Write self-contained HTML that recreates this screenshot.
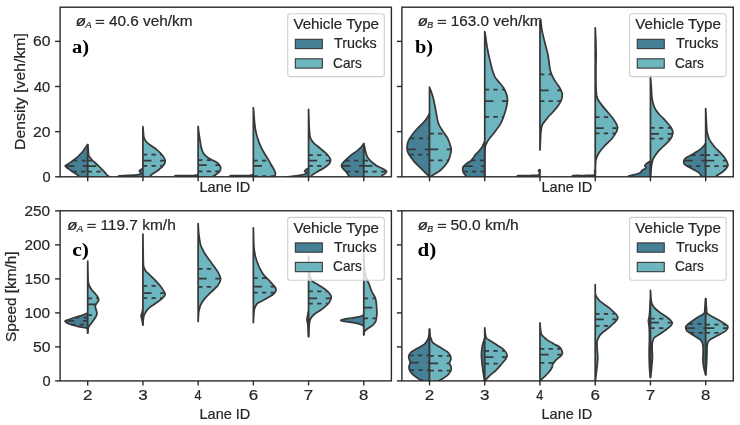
<!DOCTYPE html><html><head><meta charset="utf-8"><style>html,body{margin:0;padding:0;background:#fff;}svg{display:block;} svg{will-change:transform;}</style></head><body>
<svg width="740" height="425" viewBox="0 0 740 425">
<rect width="740" height="425" fill="#ffffff"/>
<defs>
<clipPath id="ca"><rect x="60.10" y="7.20" width="331.30" height="169.60"/></clipPath>
<clipPath id="cb"><rect x="401.90" y="7.20" width="331.40" height="169.60"/></clipPath>
<clipPath id="cc"><rect x="60.10" y="210.80" width="331.30" height="170.10"/></clipPath>
<clipPath id="cd"><rect x="401.90" y="210.80" width="331.40" height="170.10"/></clipPath>
</defs>
<g clip-path="url(#ca)">
<path d="M87.71,144.50 C87.29,145.08 86.09,146.75 85.21,148.00 C84.32,149.25 83.36,150.83 82.41,152.00 C81.46,153.17 80.51,154.02 79.51,155.00 C78.51,155.98 77.42,157.03 76.41,157.90 C75.39,158.77 74.39,159.45 73.41,160.20 C72.42,160.95 71.46,161.73 70.51,162.40 C69.56,163.07 68.57,163.63 67.71,164.20 C66.84,164.77 65.48,165.25 65.31,165.80 C65.14,166.35 66.09,166.95 66.71,167.50 C67.32,168.05 67.76,168.22 69.01,169.10 C70.26,169.98 72.59,171.68 74.21,172.80 C75.82,173.92 77.46,174.60 78.71,175.80 C79.96,177.00 81.21,179.30 81.71,180.00 L87.71,180.00 Z" fill="#468096" stroke="#383838" stroke-width="1.75" stroke-linejoin="round"/>
<line x1="73.16" y1="160.50" x2="87.71" y2="160.50" stroke="#383838" stroke-width="1.75" stroke-dasharray="4.3,4.3"/>
<line x1="65.70" y1="166.00" x2="87.71" y2="166.00" stroke="#383838" stroke-width="1.75" stroke-dasharray="8.6,8.6"/>
<line x1="72.53" y1="171.50" x2="87.71" y2="171.50" stroke="#383838" stroke-width="1.75" stroke-dasharray="4.3,4.3"/>
<path d="M87.71,144.50 C87.79,145.42 88.04,148.17 88.21,150.00 C88.38,151.83 88.44,154.30 88.71,155.50 C88.97,156.70 89.24,156.42 89.81,157.20 C90.37,157.98 90.99,159.07 92.11,160.20 C93.22,161.33 95.27,162.88 96.51,164.00 C97.74,165.12 98.64,166.05 99.51,166.90 C100.38,167.75 100.84,168.23 101.71,169.10 C102.57,169.97 103.84,171.12 104.71,172.10 C105.57,173.08 106.17,174.27 106.91,175.00 C107.64,175.73 108.47,175.67 109.11,176.50 C109.74,177.33 110.44,179.42 110.71,180.00 L87.71,180.00 Z" fill="#6db6bf" stroke="#383838" stroke-width="1.75" stroke-linejoin="round"/>
<line x1="87.71" y1="160.50" x2="92.41" y2="160.50" stroke="#383838" stroke-width="1.75" stroke-dasharray="4.3,4.3"/>
<line x1="87.71" y1="166.00" x2="98.47" y2="166.00" stroke="#383838" stroke-width="1.75" stroke-dasharray="8.6,8.6"/>
<line x1="87.71" y1="171.50" x2="103.94" y2="171.50" stroke="#383838" stroke-width="1.75" stroke-dasharray="4.3,4.3"/>
<path d="M142.92,168.50 C142.51,168.72 141.01,169.37 140.42,169.80 C139.84,170.23 139.42,170.65 139.42,171.10 C139.42,171.55 140.17,172.02 140.42,172.50 C140.67,172.98 141.51,173.62 140.92,174.00 C140.34,174.38 139.09,174.57 136.92,174.80 C134.76,175.03 130.84,175.23 127.92,175.40 C125.01,175.57 121.01,175.53 119.42,175.80 C117.84,176.07 118.67,176.30 118.42,177.00 C118.17,177.70 118.01,179.50 117.92,180.00 L142.92,180.00 Z" fill="#468096" stroke="#383838" stroke-width="1.75" stroke-linejoin="round"/>
<path d="M142.92,126.70 C143.01,127.75 143.24,131.15 143.42,133.00 C143.61,134.85 143.64,136.47 144.02,137.80 C144.41,139.13 144.84,139.88 145.72,141.00 C146.61,142.12 147.49,143.05 149.32,144.50 C151.16,145.95 154.49,147.83 156.72,149.70 C158.96,151.57 161.29,153.83 162.72,155.70 C164.16,157.57 165.32,159.17 165.32,160.90 C165.32,162.63 164.16,164.37 162.72,166.10 C161.29,167.83 158.71,169.77 156.72,171.30 C154.74,172.83 152.29,173.85 150.82,175.30 C149.36,176.75 148.41,179.22 147.92,180.00 L142.92,180.00 Z" fill="#6db6bf" stroke="#383838" stroke-width="1.75" stroke-linejoin="round"/>
<line x1="142.92" y1="154.60" x2="161.44" y2="154.60" stroke="#383838" stroke-width="1.75" stroke-dasharray="4.3,4.3"/>
<line x1="142.92" y1="160.50" x2="164.90" y2="160.50" stroke="#383838" stroke-width="1.75" stroke-dasharray="8.6,8.6"/>
<line x1="142.92" y1="165.90" x2="162.63" y2="165.90" stroke="#383838" stroke-width="1.75" stroke-dasharray="4.3,4.3"/>
<path d="M198.14,174.30 C197.89,174.42 197.47,174.80 196.64,175.00 C195.81,175.20 196.52,175.40 193.14,175.50 C189.76,175.60 179.26,175.43 176.34,175.60 C173.42,175.77 175.84,175.77 175.64,176.50 C175.44,177.23 175.22,179.42 175.14,180.00 L198.14,180.00 Z" fill="#468096" stroke="#383838" stroke-width="1.75" stroke-linejoin="round"/>
<path d="M198.14,126.30 C198.24,127.25 198.49,130.07 198.74,132.00 C198.99,133.93 199.38,136.23 199.64,137.90 C199.91,139.57 200.09,140.47 200.34,142.00 C200.59,143.53 200.62,145.23 201.14,147.10 C201.66,148.97 202.29,151.42 203.44,153.20 C204.59,154.98 206.26,156.52 208.04,157.80 C209.82,159.08 212.36,159.87 214.14,160.90 C215.92,161.93 217.66,162.85 218.74,164.00 C219.82,165.15 220.51,166.53 220.64,167.80 C220.77,169.07 220.36,170.45 219.54,171.60 C218.72,172.75 216.76,173.93 215.74,174.70 C214.72,175.47 214.38,175.32 213.44,176.20 C212.51,177.08 210.69,179.37 210.14,180.00 L198.14,180.00 Z" fill="#6db6bf" stroke="#383838" stroke-width="1.75" stroke-linejoin="round"/>
<line x1="198.14" y1="160.10" x2="212.42" y2="160.10" stroke="#383838" stroke-width="1.75" stroke-dasharray="4.3,4.3"/>
<line x1="198.14" y1="165.20" x2="219.13" y2="165.20" stroke="#383838" stroke-width="1.75" stroke-dasharray="8.6,8.6"/>
<line x1="198.14" y1="171.30" x2="219.41" y2="171.30" stroke="#383838" stroke-width="1.75" stroke-dasharray="4.3,4.3"/>
<path d="M253.36,174.30 C253.11,174.42 252.69,174.80 251.86,175.00 C251.02,175.20 251.74,175.40 248.36,175.50 C244.97,175.60 234.47,175.43 231.56,175.60 C228.64,175.77 231.06,175.77 230.86,176.50 C230.66,177.23 230.44,179.42 230.36,180.00 L253.36,180.00 Z" fill="#468096" stroke="#383838" stroke-width="1.75" stroke-linejoin="round"/>
<path d="M253.36,107.50 C253.46,108.75 253.76,112.48 253.96,115.00 C254.16,117.52 254.29,120.07 254.56,122.60 C254.82,125.13 255.07,127.68 255.56,130.20 C256.04,132.72 256.67,135.18 257.46,137.70 C258.24,140.22 259.16,142.78 260.26,145.30 C261.36,147.82 262.64,150.28 264.06,152.80 C265.48,155.32 267.34,158.03 268.76,160.40 C270.18,162.77 271.52,165.12 272.56,167.00 C273.59,168.88 274.49,170.45 274.96,171.70 C275.42,172.95 275.54,173.72 275.36,174.50 C275.18,175.28 274.53,175.48 273.86,176.40 C273.19,177.32 271.78,179.40 271.36,180.00 L253.36,180.00 Z" fill="#6db6bf" stroke="#383838" stroke-width="1.75" stroke-linejoin="round"/>
<line x1="253.36" y1="160.60" x2="268.72" y2="160.60" stroke="#383838" stroke-width="1.75" stroke-dasharray="4.3,4.3"/>
<line x1="253.36" y1="165.80" x2="271.68" y2="165.80" stroke="#383838" stroke-width="1.75" stroke-dasharray="8.6,8.6"/>
<line x1="253.36" y1="176.00" x2="273.97" y2="176.00" stroke="#383838" stroke-width="1.75" stroke-dasharray="4.3,4.3"/>
<path d="M308.57,168.30 C308.16,168.50 306.74,169.03 306.07,169.50 C305.41,169.97 304.49,170.58 304.57,171.10 C304.66,171.62 306.74,172.03 306.57,172.60 C306.41,173.17 305.74,173.90 303.57,174.50 C301.41,175.10 296.57,175.75 293.57,176.20 C290.57,176.65 287.07,176.57 285.57,177.20 C284.07,177.83 284.74,179.53 284.57,180.00 L308.57,180.00 Z" fill="#468096" stroke="#383838" stroke-width="1.75" stroke-linejoin="round"/>
<path d="M308.57,109.40 C308.66,112.00 308.91,121.07 309.07,125.00 C309.24,128.93 309.38,130.90 309.57,133.00 C309.77,135.10 309.91,136.35 310.27,137.60 C310.64,138.85 311.14,139.55 311.77,140.50 C312.41,141.45 312.76,142.05 314.07,143.30 C315.39,144.55 317.79,146.43 319.68,148.00 C321.56,149.57 323.74,151.13 325.38,152.70 C327.01,154.27 328.61,156.15 329.47,157.40 C330.34,158.65 330.64,159.10 330.57,160.20 C330.51,161.30 330.11,162.73 329.07,164.00 C328.04,165.27 326.26,166.55 324.38,167.80 C322.49,169.05 319.66,170.40 317.77,171.50 C315.89,172.60 314.17,173.62 313.07,174.40 C311.98,175.18 311.76,175.27 311.18,176.20 C310.59,177.13 309.84,179.37 309.57,180.00 L308.57,180.00 Z" fill="#6db6bf" stroke="#383838" stroke-width="1.75" stroke-linejoin="round"/>
<line x1="308.57" y1="155.20" x2="327.37" y2="155.20" stroke="#383838" stroke-width="1.75" stroke-dasharray="4.3,4.3"/>
<line x1="308.57" y1="160.60" x2="330.20" y2="160.60" stroke="#383838" stroke-width="1.75" stroke-dasharray="8.6,8.6"/>
<line x1="308.57" y1="165.90" x2="326.54" y2="165.90" stroke="#383838" stroke-width="1.75" stroke-dasharray="4.3,4.3"/>
<path d="M363.79,143.50 C363.54,143.83 362.83,144.80 362.29,145.50 C361.76,146.20 361.58,146.72 360.59,147.70 C359.61,148.68 357.98,150.17 356.39,151.40 C354.81,152.63 352.86,153.68 351.09,155.10 C349.33,156.52 347.29,158.40 345.79,159.90 C344.29,161.40 342.79,163.03 342.09,164.10 C341.39,165.17 341.41,165.50 341.59,166.30 C341.78,167.10 342.49,168.03 343.19,168.90 C343.89,169.77 344.93,170.43 345.79,171.50 C346.66,172.57 347.39,173.88 348.39,175.30 C349.39,176.72 351.23,179.22 351.79,180.00 L363.79,180.00 Z" fill="#468096" stroke="#383838" stroke-width="1.75" stroke-linejoin="round"/>
<line x1="345.36" y1="160.60" x2="363.79" y2="160.60" stroke="#383838" stroke-width="1.75" stroke-dasharray="4.3,4.3"/>
<line x1="341.90" y1="165.90" x2="363.79" y2="165.90" stroke="#383838" stroke-width="1.75" stroke-dasharray="8.6,8.6"/>
<line x1="345.97" y1="171.50" x2="363.79" y2="171.50" stroke="#383838" stroke-width="1.75" stroke-dasharray="4.3,4.3"/>
<path d="M363.79,143.50 C363.93,144.08 364.33,145.77 364.59,147.00 C364.86,148.23 364.99,149.37 365.39,150.90 C365.79,152.43 366.38,154.78 366.99,156.20 C367.61,157.62 368.21,158.35 369.09,159.40 C369.98,160.45 371.06,161.45 372.29,162.50 C373.53,163.55 375.07,164.82 376.49,165.70 C377.91,166.58 379.38,167.08 380.79,167.80 C382.21,168.52 384.02,169.38 384.99,170.00 C385.96,170.62 386.59,170.88 386.59,171.50 C386.59,172.12 385.79,172.98 384.99,173.70 C384.19,174.42 382.83,174.75 381.79,175.80 C380.76,176.85 379.29,179.30 378.79,180.00 L363.79,180.00 Z" fill="#6db6bf" stroke="#383838" stroke-width="1.75" stroke-linejoin="round"/>
<line x1="363.79" y1="160.60" x2="370.26" y2="160.60" stroke="#383838" stroke-width="1.75" stroke-dasharray="4.3,4.3"/>
<line x1="363.79" y1="165.90" x2="376.77" y2="165.90" stroke="#383838" stroke-width="1.75" stroke-dasharray="8.6,8.6"/>
<line x1="363.79" y1="171.50" x2="386.36" y2="171.50" stroke="#383838" stroke-width="1.75" stroke-dasharray="4.3,4.3"/>
</g>
<g clip-path="url(#cb)">
<path d="M429.52,113.60 C429.10,114.33 427.97,116.60 427.02,118.00 C426.07,119.40 425.35,120.33 423.82,122.00 C422.28,123.67 419.82,125.80 417.82,128.00 C415.82,130.20 413.42,133.00 411.82,135.20 C410.22,137.40 409.02,139.20 408.22,141.20 C407.42,143.20 407.02,145.20 407.02,147.20 C407.02,149.20 407.02,150.80 408.22,153.20 C409.42,155.60 412.02,159.00 414.22,161.60 C416.42,164.20 419.22,166.60 421.42,168.80 C423.62,171.00 426.12,173.50 427.42,174.80 C428.72,176.10 428.87,176.07 429.22,176.60 C429.57,177.13 429.47,177.77 429.52,178.00 L429.52,178.00 Z" fill="#468096" stroke="#383838" stroke-width="1.75" stroke-linejoin="round"/>
<line x1="410.15" y1="138.30" x2="429.52" y2="138.30" stroke="#383838" stroke-width="1.75" stroke-dasharray="4.3,4.3"/>
<line x1="407.66" y1="149.30" x2="429.52" y2="149.30" stroke="#383838" stroke-width="1.75" stroke-dasharray="8.6,8.6"/>
<line x1="409.49" y1="154.70" x2="429.52" y2="154.70" stroke="#383838" stroke-width="1.75" stroke-dasharray="4.3,4.3"/>
<path d="M429.52,87.20 C429.82,88.00 430.65,90.00 431.32,92.00 C431.98,94.00 432.75,96.00 433.52,99.20 C434.28,102.40 435.12,107.20 435.92,111.20 C436.72,115.20 437.12,119.80 438.32,123.20 C439.52,126.60 441.52,129.00 443.12,131.60 C444.72,134.20 446.63,136.20 447.92,138.80 C449.20,141.40 450.30,145.00 450.82,147.20 C451.33,149.40 451.50,149.60 451.02,152.00 C450.53,154.40 449.63,158.60 447.92,161.60 C446.20,164.60 443.12,167.80 440.72,170.00 C438.32,172.20 435.22,173.70 433.52,174.80 C431.82,175.90 431.18,176.07 430.52,176.60 C429.85,177.13 429.68,177.77 429.52,178.00 L429.52,178.00 Z" fill="#6db6bf" stroke="#383838" stroke-width="1.75" stroke-linejoin="round"/>
<line x1="429.52" y1="133.60" x2="444.30" y2="133.60" stroke="#383838" stroke-width="1.75" stroke-dasharray="4.3,4.3"/>
<line x1="429.52" y1="149.30" x2="450.69" y2="149.30" stroke="#383838" stroke-width="1.75" stroke-dasharray="8.6,8.6"/>
<line x1="429.52" y1="160.40" x2="448.12" y2="160.40" stroke="#383838" stroke-width="1.75" stroke-dasharray="4.3,4.3"/>
<path d="M484.75,141.00 C484.62,141.33 484.35,142.05 483.95,143.00 C483.55,143.95 483.15,145.38 482.35,146.70 C481.55,148.02 480.30,149.58 479.15,150.90 C478.00,152.22 476.42,153.45 475.45,154.60 C474.48,155.75 474.15,156.73 473.35,157.80 C472.55,158.87 471.80,160.03 470.65,161.00 C469.50,161.97 467.68,162.63 466.45,163.60 C465.22,164.57 463.87,165.73 463.25,166.80 C462.63,167.87 462.67,168.95 462.75,170.00 C462.83,171.05 463.23,172.13 463.75,173.10 C464.27,174.07 465.18,174.65 465.85,175.80 C466.52,176.95 467.43,179.30 467.75,180.00 L484.75,180.00 Z" fill="#468096" stroke="#383838" stroke-width="1.75" stroke-linejoin="round"/>
<line x1="471.29" y1="160.40" x2="484.75" y2="160.40" stroke="#383838" stroke-width="1.75" stroke-dasharray="4.3,4.3"/>
<line x1="464.06" y1="166.20" x2="484.75" y2="166.20" stroke="#383838" stroke-width="1.75" stroke-dasharray="8.6,8.6"/>
<line x1="463.45" y1="171.50" x2="484.75" y2="171.50" stroke="#383838" stroke-width="1.75" stroke-dasharray="4.3,4.3"/>
<path d="M484.75,31.60 C484.88,32.33 485.33,34.60 485.55,36.00 C485.77,37.40 485.83,38.40 486.05,40.00 C486.27,41.60 486.53,43.68 486.85,45.60 C487.17,47.52 487.55,49.53 487.95,51.50 C488.35,53.47 488.82,55.48 489.25,57.40 C489.68,59.32 490.07,61.03 490.55,63.00 C491.03,64.97 491.65,67.45 492.15,69.20 C492.65,70.95 493.05,72.13 493.55,73.50 C494.05,74.87 494.22,75.92 495.15,77.40 C496.08,78.88 497.70,80.60 499.15,82.40 C500.60,84.20 502.57,86.05 503.85,88.20 C505.13,90.35 506.25,93.15 506.85,95.30 C507.45,97.45 507.68,98.47 507.45,101.10 C507.22,103.73 506.50,107.52 505.45,111.10 C504.40,114.68 502.83,119.25 501.15,122.60 C499.47,125.95 497.27,128.58 495.35,131.20 C493.43,133.82 491.07,136.40 489.65,138.30 C488.23,140.20 487.58,141.17 486.85,142.60 C486.12,144.03 485.60,144.83 485.25,146.90 C484.90,148.97 484.83,149.82 484.75,155.00 C484.67,160.18 484.75,174.17 484.75,178.00 L484.75,178.00 Z" fill="#6db6bf" stroke="#383838" stroke-width="1.75" stroke-linejoin="round"/>
<line x1="484.75" y1="89.60" x2="504.24" y2="89.60" stroke="#383838" stroke-width="1.75" stroke-dasharray="4.3,4.3"/>
<line x1="484.75" y1="101.10" x2="507.22" y2="101.10" stroke="#383838" stroke-width="1.75" stroke-dasharray="8.6,8.6"/>
<line x1="484.75" y1="116.80" x2="503.13" y2="116.80" stroke="#383838" stroke-width="1.75" stroke-dasharray="4.3,4.3"/>
<path d="M539.98,169.50 C539.73,169.70 538.58,170.25 538.48,170.70 C538.38,171.15 539.27,171.57 539.38,172.20 C539.50,172.83 539.58,173.98 539.18,174.50 C538.78,175.02 538.52,175.13 536.98,175.30 C535.45,175.47 533.07,175.45 529.98,175.50 C526.90,175.55 520.57,175.43 518.48,175.60 C516.40,175.77 517.73,175.77 517.48,176.50 C517.23,177.23 517.07,179.42 516.98,180.00 L539.98,180.00 Z" fill="#468096" stroke="#383838" stroke-width="1.75" stroke-linejoin="round"/>
<path d="M539.98,20.50 C540.18,21.25 540.80,23.10 541.18,25.00 C541.57,26.90 541.65,28.87 542.28,31.90 C542.92,34.93 544.05,39.45 544.98,43.20 C545.92,46.95 547.15,50.77 547.88,54.40 C548.62,58.03 548.95,62.18 549.38,65.00 C549.82,67.82 549.95,69.37 550.48,71.30 C551.02,73.23 551.72,74.83 552.58,76.60 C553.45,78.37 554.55,80.13 555.68,81.90 C556.82,83.67 558.35,85.43 559.38,87.20 C560.42,88.97 561.40,91.08 561.88,92.50 C562.37,93.92 562.43,94.28 562.28,95.70 C562.13,97.12 561.63,99.42 560.98,101.00 C560.33,102.58 559.35,103.80 558.38,105.20 C557.42,106.60 556.17,108.18 555.18,109.40 C554.20,110.62 553.52,111.40 552.48,112.50 C551.45,113.60 549.98,114.88 548.98,116.00 C547.98,117.12 547.60,117.72 546.48,119.20 C545.37,120.68 543.17,123.10 542.28,124.90 C541.40,126.70 541.45,128.37 541.18,130.00 C540.92,131.63 540.88,131.37 540.68,134.70 C540.48,138.03 540.10,147.45 539.98,150.00 L539.98,150.00 Z" fill="#6db6bf" stroke="#383838" stroke-width="1.75" stroke-linejoin="round"/>
<line x1="539.98" y1="74.30" x2="551.56" y2="74.30" stroke="#383838" stroke-width="1.75" stroke-dasharray="4.3,4.3"/>
<line x1="539.98" y1="90.40" x2="560.68" y2="90.40" stroke="#383838" stroke-width="1.75" stroke-dasharray="8.6,8.6"/>
<line x1="539.98" y1="101.00" x2="560.77" y2="101.00" stroke="#383838" stroke-width="1.75" stroke-dasharray="4.3,4.3"/>
<path d="M595.22,170.00 C595.08,170.13 594.47,170.47 594.42,170.80 C594.37,171.13 594.95,171.33 594.92,172.00 C594.88,172.67 594.83,174.23 594.22,174.80 C593.60,175.37 593.05,175.28 591.22,175.40 C589.38,175.52 586.22,175.47 583.22,175.50 C580.22,175.53 574.97,175.43 573.22,175.60 C571.47,175.77 572.88,175.77 572.72,176.50 C572.55,177.23 572.30,179.42 572.22,180.00 L595.22,180.00 Z" fill="#468096" stroke="#383838" stroke-width="1.75" stroke-linejoin="round"/>
<path d="M595.22,27.90 C595.32,29.92 595.67,35.67 595.82,40.00 C595.97,44.33 596.10,48.90 596.12,53.90 C596.13,58.90 595.92,63.98 595.92,70.00 C595.92,76.02 595.88,85.27 596.12,90.00 C596.35,94.73 596.37,95.88 597.32,98.40 C598.27,100.92 600.13,102.87 601.82,105.10 C603.50,107.33 605.55,109.57 607.42,111.80 C609.28,114.03 611.35,116.07 613.02,118.50 C614.68,120.93 616.87,124.15 617.42,126.40 C617.97,128.65 617.25,129.95 616.32,132.00 C615.38,134.05 613.68,136.47 611.82,138.70 C609.95,140.93 607.17,143.17 605.12,145.40 C603.07,147.63 601.00,149.87 599.52,152.10 C598.03,154.33 596.88,156.65 596.22,158.80 C595.55,160.95 595.68,161.80 595.52,165.00 C595.35,168.20 595.27,175.83 595.22,178.00 L595.22,178.00 Z" fill="#6db6bf" stroke="#383838" stroke-width="1.75" stroke-linejoin="round"/>
<line x1="595.22" y1="117.00" x2="611.60" y2="117.00" stroke="#383838" stroke-width="1.75" stroke-dasharray="4.3,4.3"/>
<line x1="595.22" y1="128.00" x2="616.88" y2="128.00" stroke="#383838" stroke-width="1.75" stroke-dasharray="8.6,8.6"/>
<line x1="595.22" y1="133.30" x2="615.24" y2="133.30" stroke="#383838" stroke-width="1.75" stroke-dasharray="4.3,4.3"/>
<path d="M650.45,161.10 C649.88,161.47 647.98,162.57 647.05,163.30 C646.12,164.03 645.03,164.75 644.85,165.50 C644.67,166.25 646.33,167.05 645.95,167.80 C645.57,168.55 643.67,169.08 642.55,170.00 C641.43,170.92 641.30,172.37 639.25,173.30 C637.20,174.23 632.13,175.03 630.25,175.60 C628.37,176.17 628.42,175.97 627.95,176.70 C627.48,177.43 627.53,179.45 627.45,180.00 L650.45,180.00 Z" fill="#468096" stroke="#383838" stroke-width="1.75" stroke-linejoin="round"/>
<path d="M650.45,75.50 C650.62,77.92 651.18,86.18 651.45,90.00 C651.72,93.82 651.57,95.50 652.05,98.40 C652.53,101.30 653.22,104.80 654.35,107.40 C655.48,110.00 656.98,111.77 658.85,114.00 C660.72,116.23 663.52,118.55 665.55,120.80 C667.58,123.05 669.83,125.45 671.05,127.50 C672.27,129.55 673.03,131.05 672.85,133.10 C672.67,135.15 671.55,137.57 669.95,139.80 C668.35,142.03 665.30,144.45 663.25,146.50 C661.20,148.55 659.33,150.05 657.65,152.10 C655.97,154.15 654.17,156.57 653.15,158.80 C652.13,161.03 651.93,163.30 651.55,165.50 C651.17,167.70 651.03,169.92 650.85,172.00 C650.67,174.08 650.52,177.00 650.45,178.00 L650.45,178.00 Z" fill="#6db6bf" stroke="#383838" stroke-width="1.75" stroke-linejoin="round"/>
<line x1="650.45" y1="127.80" x2="670.94" y2="127.80" stroke="#383838" stroke-width="1.75" stroke-dasharray="4.3,4.3"/>
<line x1="650.45" y1="133.80" x2="672.33" y2="133.80" stroke="#383838" stroke-width="1.75" stroke-dasharray="8.6,8.6"/>
<line x1="650.45" y1="138.60" x2="670.27" y2="138.60" stroke="#383838" stroke-width="1.75" stroke-dasharray="4.3,4.3"/>
<path d="M705.68,143.30 C705.35,143.75 704.70,144.90 703.68,146.00 C702.67,147.10 700.92,148.85 699.58,149.90 C698.25,150.95 696.95,151.52 695.68,152.30 C694.42,153.08 693.20,153.90 691.98,154.60 C690.77,155.30 689.48,155.88 688.38,156.50 C687.28,157.12 686.18,157.52 685.38,158.30 C684.58,159.08 683.58,160.08 683.58,161.20 C683.58,162.32 683.98,163.75 685.38,165.00 C686.78,166.25 689.78,167.47 691.98,168.70 C694.18,169.93 697.02,171.15 698.58,172.40 C700.15,173.65 700.70,174.93 701.38,176.20 C702.07,177.47 702.47,179.37 702.68,180.00 L705.68,180.00 Z" fill="#468096" stroke="#383838" stroke-width="1.75" stroke-linejoin="round"/>
<line x1="691.37" y1="155.00" x2="705.68" y2="155.00" stroke="#383838" stroke-width="1.75" stroke-dasharray="4.3,4.3"/>
<line x1="684.11" y1="160.70" x2="705.68" y2="160.70" stroke="#383838" stroke-width="1.75" stroke-dasharray="8.6,8.6"/>
<line x1="687.35" y1="166.00" x2="705.68" y2="166.00" stroke="#383838" stroke-width="1.75" stroke-dasharray="4.3,4.3"/>
<path d="M705.68,108.50 C705.78,110.42 706.12,116.75 706.28,120.00 C706.45,123.25 706.55,126.00 706.68,128.00 C706.82,130.00 706.70,130.23 707.08,132.00 C707.47,133.77 708.20,136.72 708.98,138.60 C709.77,140.48 710.68,141.73 711.78,143.30 C712.88,144.87 714.17,146.43 715.58,148.00 C717.00,149.57 718.72,150.98 720.28,152.70 C721.85,154.42 723.73,156.42 724.98,158.30 C726.23,160.18 727.38,162.58 727.78,164.00 C728.18,165.42 728.17,165.55 727.38,166.80 C726.60,168.05 724.75,170.08 723.08,171.50 C721.42,172.92 718.63,174.35 717.38,175.30 C716.13,176.25 716.20,176.42 715.58,177.20 C714.97,177.98 714.00,179.53 713.68,180.00 L705.68,180.00 Z" fill="#6db6bf" stroke="#383838" stroke-width="1.75" stroke-linejoin="round"/>
<line x1="705.68" y1="155.00" x2="722.05" y2="155.00" stroke="#383838" stroke-width="1.75" stroke-dasharray="4.3,4.3"/>
<line x1="705.68" y1="160.70" x2="725.96" y2="160.70" stroke="#383838" stroke-width="1.75" stroke-dasharray="8.6,8.6"/>
<line x1="705.68" y1="166.00" x2="727.28" y2="166.00" stroke="#383838" stroke-width="1.75" stroke-dasharray="4.3,4.3"/>
</g>
<g clip-path="url(#cc)">
<path d="M87.71,313.20 C87.12,313.42 85.74,313.97 84.21,314.50 C82.67,315.03 80.59,315.73 78.51,316.40 C76.42,317.07 73.59,317.90 71.71,318.50 C69.82,319.10 68.32,319.58 67.21,320.00 C66.09,320.42 65.17,320.62 65.01,321.00 C64.84,321.38 65.61,321.83 66.21,322.30 C66.81,322.77 67.36,323.30 68.61,323.80 C69.86,324.30 72.06,324.83 73.71,325.30 C75.36,325.77 76.92,326.23 78.51,326.60 C80.09,326.97 81.81,327.23 83.21,327.50 C84.61,327.77 86.16,327.78 86.91,328.20 C87.66,328.62 87.57,329.20 87.71,330.00 C87.84,330.80 87.71,332.50 87.71,333.00 L87.71,333.00 Z" fill="#468096" stroke="#383838" stroke-width="1.75" stroke-linejoin="round"/>
<line x1="75.07" y1="317.50" x2="87.71" y2="317.50" stroke="#383838" stroke-width="1.75" stroke-dasharray="4.3,4.3"/>
<line x1="65.67" y1="320.80" x2="87.71" y2="320.80" stroke="#383838" stroke-width="1.75" stroke-dasharray="8.6,8.6"/>
<line x1="71.16" y1="324.50" x2="87.71" y2="324.50" stroke="#383838" stroke-width="1.75" stroke-dasharray="4.3,4.3"/>
<path d="M87.71,261.00 C87.77,264.17 87.94,276.17 88.11,280.00 C88.28,283.83 88.44,282.92 88.71,284.00 C88.97,285.08 89.34,285.75 89.71,286.50 C90.07,287.25 90.41,287.75 90.91,288.50 C91.41,289.25 91.94,290.08 92.71,291.00 C93.47,291.92 94.67,293.00 95.51,294.00 C96.34,295.00 97.17,296.03 97.71,297.00 C98.24,297.97 98.71,298.97 98.71,299.80 C98.71,300.63 98.12,301.30 97.71,302.00 C97.29,302.70 96.62,303.33 96.21,304.00 C95.79,304.67 95.29,305.25 95.21,306.00 C95.12,306.75 95.49,307.67 95.71,308.50 C95.92,309.33 96.31,310.10 96.51,311.00 C96.71,311.90 97.04,312.90 96.91,313.90 C96.78,314.90 96.24,315.98 95.71,317.00 C95.17,318.02 94.41,319.00 93.71,320.00 C93.01,321.00 92.26,322.00 91.51,323.00 C90.76,324.00 89.76,325.17 89.21,326.00 C88.66,326.83 88.46,326.83 88.21,328.00 C87.96,329.17 87.79,332.17 87.71,333.00 L87.71,333.00 Z" fill="#6db6bf" stroke="#383838" stroke-width="1.75" stroke-linejoin="round"/>
<line x1="87.71" y1="298.40" x2="98.10" y2="298.40" stroke="#383838" stroke-width="1.75" stroke-dasharray="4.3,4.3"/>
<line x1="87.71" y1="304.30" x2="95.97" y2="304.30" stroke="#383838" stroke-width="1.75" stroke-dasharray="8.6,8.6"/>
<line x1="87.71" y1="315.00" x2="96.39" y2="315.00" stroke="#383838" stroke-width="1.75" stroke-dasharray="4.3,4.3"/>
<path d="M142.92,309.00 C142.79,309.58 142.42,311.37 142.12,312.50 C141.82,313.63 141.19,314.72 141.12,315.80 C141.06,316.88 141.51,317.97 141.72,319.00 C141.94,320.03 142.22,321.00 142.42,322.00 C142.62,323.00 142.84,324.50 142.92,325.00 L142.92,325.00 Z" fill="#468096" stroke="#383838" stroke-width="1.75" stroke-linejoin="round"/>
<path d="M142.92,234.00 C142.99,238.67 143.16,256.45 143.32,262.00 C143.49,267.55 143.52,265.82 143.92,267.30 C144.32,268.78 144.84,269.72 145.72,270.90 C146.61,272.08 148.06,273.23 149.22,274.40 C150.39,275.57 151.41,276.58 152.72,277.90 C154.04,279.22 155.66,280.68 157.12,282.30 C158.59,283.92 160.19,285.68 161.52,287.60 C162.86,289.52 164.82,292.18 165.12,293.80 C165.42,295.42 164.51,295.98 163.32,297.30 C162.14,298.62 159.79,300.38 158.02,301.70 C156.26,303.02 154.34,304.03 152.72,305.20 C151.11,306.37 149.49,307.52 148.32,308.70 C147.16,309.88 146.46,311.12 145.72,312.30 C144.99,313.48 144.34,314.52 143.92,315.80 C143.51,317.08 143.39,318.47 143.22,320.00 C143.06,321.53 142.97,324.17 142.92,325.00 L142.92,325.00 Z" fill="#6db6bf" stroke="#383838" stroke-width="1.75" stroke-linejoin="round"/>
<line x1="142.92" y1="285.80" x2="159.86" y2="285.80" stroke="#383838" stroke-width="1.75" stroke-dasharray="4.3,4.3"/>
<line x1="142.92" y1="293.20" x2="164.56" y2="293.20" stroke="#383838" stroke-width="1.75" stroke-dasharray="8.6,8.6"/>
<line x1="142.92" y1="298.20" x2="162.05" y2="298.20" stroke="#383838" stroke-width="1.75" stroke-dasharray="4.3,4.3"/>
<path d="M198.14,223.70 C198.22,225.08 198.44,229.62 198.64,232.00 C198.84,234.38 199.02,235.88 199.34,238.00 C199.66,240.12 199.99,242.78 200.54,244.70 C201.09,246.62 201.82,247.85 202.64,249.50 C203.46,251.15 203.94,252.32 205.44,254.60 C206.94,256.88 209.57,260.32 211.64,263.20 C213.71,266.08 216.34,269.22 217.84,271.90 C219.34,274.58 220.64,277.03 220.64,279.30 C220.64,281.57 219.34,283.45 217.84,285.50 C216.34,287.55 213.71,289.55 211.64,291.60 C209.57,293.65 206.94,296.15 205.44,297.80 C203.94,299.45 203.46,300.27 202.64,301.50 C201.82,302.73 201.12,303.78 200.54,305.20 C199.96,306.62 199.47,308.57 199.14,310.00 C198.81,311.43 198.71,311.88 198.54,313.80 C198.38,315.72 198.21,320.22 198.14,321.50 L198.14,321.50 Z" fill="#6db6bf" stroke="#383838" stroke-width="1.75" stroke-linejoin="round"/>
<line x1="198.14" y1="268.80" x2="215.46" y2="268.80" stroke="#383838" stroke-width="1.75" stroke-dasharray="4.3,4.3"/>
<line x1="198.14" y1="278.70" x2="220.19" y2="278.70" stroke="#383838" stroke-width="1.75" stroke-dasharray="8.6,8.6"/>
<line x1="198.14" y1="286.80" x2="216.34" y2="286.80" stroke="#383838" stroke-width="1.75" stroke-dasharray="4.3,4.3"/>
<path d="M253.36,227.80 C253.41,229.83 253.54,236.60 253.66,240.00 C253.78,243.40 253.77,245.47 254.06,248.20 C254.34,250.93 254.67,253.65 255.36,256.40 C256.04,259.15 257.36,262.60 258.16,264.70 C258.96,266.80 259.46,267.63 260.16,269.00 C260.86,270.37 261.43,271.55 262.36,272.90 C263.29,274.25 264.61,275.82 265.76,277.10 C266.91,278.38 268.14,279.43 269.26,280.60 C270.38,281.77 271.51,283.05 272.46,284.10 C273.41,285.15 274.38,286.07 274.96,286.90 C275.54,287.73 275.84,288.38 275.96,289.10 C276.07,289.82 276.06,290.38 275.66,291.20 C275.26,292.02 274.62,293.07 273.56,294.00 C272.49,294.93 270.68,295.92 269.26,296.80 C267.84,297.68 266.46,298.52 265.06,299.30 C263.66,300.08 262.21,300.75 260.86,301.50 C259.51,302.25 258.01,302.63 256.96,303.80 C255.91,304.97 255.09,306.63 254.56,308.50 C254.02,310.37 253.96,312.65 253.76,315.00 C253.56,317.35 253.42,321.33 253.36,322.60 L253.36,322.60 Z" fill="#6db6bf" stroke="#383838" stroke-width="1.75" stroke-linejoin="round"/>
<line x1="253.36" y1="278.00" x2="266.53" y2="278.00" stroke="#383838" stroke-width="1.75" stroke-dasharray="4.3,4.3"/>
<line x1="253.36" y1="286.60" x2="274.48" y2="286.60" stroke="#383838" stroke-width="1.75" stroke-dasharray="8.6,8.6"/>
<line x1="253.36" y1="292.50" x2="274.47" y2="292.50" stroke="#383838" stroke-width="1.75" stroke-dasharray="4.3,4.3"/>
<path d="M308.57,311.00 C308.44,311.67 308.04,313.60 307.77,315.00 C307.51,316.40 307.01,318.07 306.97,319.40 C306.94,320.73 307.39,321.57 307.57,323.00 C307.76,324.43 307.91,325.73 308.07,328.00 C308.24,330.27 308.49,335.17 308.57,336.60 L308.57,336.60 Z" fill="#468096" stroke="#383838" stroke-width="1.75" stroke-linejoin="round"/>
<path d="M308.57,256.00 C308.68,258.33 308.93,266.67 309.18,270.00 C309.43,273.33 309.54,274.15 310.07,276.00 C310.61,277.85 310.98,279.62 312.38,281.10 C313.77,282.58 316.31,283.50 318.47,284.90 C320.64,286.30 323.46,287.97 325.38,289.50 C327.29,291.03 329.01,292.68 329.97,294.10 C330.94,295.52 331.31,296.60 331.18,298.00 C331.04,299.40 330.28,300.98 329.18,302.50 C328.07,304.02 326.23,305.68 324.57,307.10 C322.92,308.52 320.92,309.85 319.27,311.00 C317.62,312.15 315.94,312.98 314.68,314.00 C313.41,315.02 312.44,316.08 311.68,317.10 C310.91,318.12 310.49,318.78 310.07,320.10 C309.66,321.42 309.43,322.25 309.18,325.00 C308.93,327.75 308.68,334.67 308.57,336.60 L308.57,336.60 Z" fill="#6db6bf" stroke="#383838" stroke-width="1.75" stroke-linejoin="round"/>
<line x1="308.57" y1="291.40" x2="327.09" y2="291.40" stroke="#383838" stroke-width="1.75" stroke-dasharray="4.3,4.3"/>
<line x1="308.57" y1="298.30" x2="330.82" y2="298.30" stroke="#383838" stroke-width="1.75" stroke-dasharray="8.6,8.6"/>
<line x1="308.57" y1="303.70" x2="327.78" y2="303.70" stroke="#383838" stroke-width="1.75" stroke-dasharray="4.3,4.3"/>
<path d="M363.79,315.20 C363.38,315.33 362.12,315.73 361.29,316.00 C360.46,316.27 360.43,316.47 358.79,316.80 C357.16,317.13 353.99,317.58 351.49,318.00 C348.99,318.42 345.58,318.93 343.79,319.30 C342.01,319.67 340.89,319.88 340.79,320.20 C340.69,320.52 341.41,320.83 343.19,321.20 C344.98,321.57 348.89,321.97 351.49,322.40 C354.09,322.83 356.99,323.33 358.79,323.80 C360.59,324.27 361.46,324.70 362.29,325.20 C363.12,325.70 363.54,325.20 363.79,326.80 C364.04,328.40 363.79,333.47 363.79,334.80 L363.79,334.80 Z" fill="#468096" stroke="#383838" stroke-width="1.75" stroke-linejoin="round"/>
<path d="M363.79,251.00 C363.88,253.33 364.04,261.17 364.29,265.00 C364.54,268.83 364.74,271.38 365.29,274.00 C365.84,276.62 366.84,278.70 367.59,280.70 C368.34,282.70 369.11,284.22 369.79,286.00 C370.48,287.78 370.82,289.53 371.69,291.40 C372.56,293.27 374.27,295.60 374.99,297.20 C375.71,298.80 375.73,299.50 375.99,301.00 C376.26,302.50 376.44,304.23 376.59,306.20 C376.74,308.17 376.89,311.00 376.89,312.80 C376.89,314.60 376.78,315.62 376.59,317.00 C376.41,318.38 376.26,319.93 375.79,321.10 C375.33,322.27 374.48,323.18 373.79,324.00 C373.11,324.82 372.86,325.12 371.69,326.00 C370.52,326.88 368.03,328.33 366.79,329.30 C365.56,330.27 364.79,330.88 364.29,331.80 C363.79,332.72 363.88,334.30 363.79,334.80 L363.79,334.80 Z" fill="#6db6bf" stroke="#383838" stroke-width="1.75" stroke-linejoin="round"/>
<line x1="363.79" y1="298.30" x2="375.17" y2="298.30" stroke="#383838" stroke-width="1.75" stroke-dasharray="4.3,4.3"/>
<line x1="363.79" y1="307.70" x2="376.53" y2="307.70" stroke="#383838" stroke-width="1.75" stroke-dasharray="8.6,8.6"/>
<line x1="363.79" y1="318.30" x2="376.21" y2="318.30" stroke="#383838" stroke-width="1.75" stroke-dasharray="4.3,4.3"/>
</g>
<g clip-path="url(#cd)">
<path d="M429.52,329.00 C429.42,330.17 429.17,334.37 428.92,336.00 C428.67,337.63 428.42,337.88 428.02,338.80 C427.62,339.72 427.10,340.62 426.52,341.50 C425.93,342.38 426.10,342.92 424.52,344.10 C422.93,345.28 419.28,347.22 417.02,348.60 C414.75,349.98 412.30,351.15 410.92,352.40 C409.53,353.65 408.97,354.85 408.72,356.10 C408.47,357.35 409.17,358.77 409.42,359.90 C409.67,361.03 410.27,361.90 410.22,362.90 C410.17,363.90 409.25,364.77 409.12,365.90 C408.98,367.03 408.87,368.32 409.42,369.70 C409.97,371.08 410.90,372.70 412.42,374.20 C413.93,375.70 416.75,377.58 418.52,378.70 C420.28,379.82 421.68,380.02 423.02,380.90 C424.35,381.78 425.93,383.48 426.52,384.00 L429.52,384.00 Z" fill="#468096" stroke="#383838" stroke-width="1.75" stroke-linejoin="round"/>
<line x1="409.34" y1="355.40" x2="429.52" y2="355.40" stroke="#383838" stroke-width="1.75" stroke-dasharray="4.3,4.3"/>
<line x1="410.33" y1="362.60" x2="429.52" y2="362.60" stroke="#383838" stroke-width="1.75" stroke-dasharray="8.6,8.6"/>
<line x1="409.82" y1="370.00" x2="429.52" y2="370.00" stroke="#383838" stroke-width="1.75" stroke-dasharray="4.3,4.3"/>
<path d="M429.52,329.00 C429.62,330.17 429.87,334.37 430.12,336.00 C430.37,337.63 430.75,338.05 431.02,338.80 C431.28,339.55 431.42,339.87 431.72,340.50 C432.02,341.13 431.50,341.50 432.82,342.60 C434.13,343.70 437.23,345.60 439.62,347.10 C442.00,348.60 445.37,350.22 447.12,351.60 C448.87,352.98 449.48,354.13 450.12,355.40 C450.75,356.67 451.03,357.95 450.92,359.20 C450.80,360.45 449.42,361.65 449.42,362.90 C449.42,364.15 450.67,365.43 450.92,366.70 C451.17,367.97 451.55,369.00 450.92,370.50 C450.28,372.00 448.75,374.20 447.12,375.70 C445.48,377.20 442.72,378.53 441.12,379.50 C439.52,380.47 438.78,380.75 437.52,381.50 C436.25,382.25 434.18,383.58 433.52,384.00 L429.52,384.00 Z" fill="#6db6bf" stroke="#383838" stroke-width="1.75" stroke-linejoin="round"/>
<line x1="429.52" y1="355.80" x2="449.99" y2="355.80" stroke="#383838" stroke-width="1.75" stroke-dasharray="4.3,4.3"/>
<line x1="429.52" y1="363.40" x2="449.41" y2="363.40" stroke="#383838" stroke-width="1.75" stroke-dasharray="8.6,8.6"/>
<line x1="429.52" y1="370.50" x2="450.70" y2="370.50" stroke="#383838" stroke-width="1.75" stroke-dasharray="4.3,4.3"/>
<path d="M484.75,338.00 C484.62,338.42 484.32,339.33 483.95,340.50 C483.58,341.67 482.92,343.42 482.55,345.00 C482.18,346.58 481.93,348.43 481.75,350.00 C481.57,351.57 481.45,352.73 481.45,354.40 C481.45,356.07 481.60,358.07 481.75,360.00 C481.90,361.93 482.12,364.00 482.35,366.00 C482.58,368.00 482.88,370.17 483.15,372.00 C483.42,373.83 483.73,375.52 483.95,377.00 C484.17,378.48 484.32,379.73 484.45,380.90 C484.58,382.07 484.70,383.48 484.75,384.00 L484.75,384.00 Z" fill="#468096" stroke="#383838" stroke-width="1.75" stroke-linejoin="round"/>
<path d="M484.75,327.90 C484.85,328.92 485.10,332.33 485.35,334.00 C485.60,335.67 485.80,336.98 486.25,337.90 C486.70,338.82 487.25,338.93 488.05,339.50 C488.85,340.07 489.38,340.27 491.05,341.30 C492.72,342.33 495.87,344.25 498.05,345.70 C500.23,347.15 502.65,348.47 504.15,350.00 C505.65,351.53 506.77,353.45 507.05,354.90 C507.33,356.35 506.77,357.18 505.85,358.70 C504.93,360.22 503.15,362.10 501.55,364.00 C499.95,365.90 498.00,368.37 496.25,370.10 C494.50,371.83 492.63,372.95 491.05,374.40 C489.47,375.85 487.67,377.72 486.75,378.80 C485.83,379.88 485.88,380.03 485.55,380.90 C485.22,381.77 484.88,383.48 484.75,384.00 L484.75,384.00 Z" fill="#6db6bf" stroke="#383838" stroke-width="1.75" stroke-linejoin="round"/>
<line x1="484.75" y1="350.90" x2="504.48" y2="350.90" stroke="#383838" stroke-width="1.75" stroke-dasharray="4.3,4.3"/>
<line x1="484.75" y1="357.00" x2="506.17" y2="357.00" stroke="#383838" stroke-width="1.75" stroke-dasharray="8.6,8.6"/>
<line x1="484.75" y1="363.60" x2="501.70" y2="363.60" stroke="#383838" stroke-width="1.75" stroke-dasharray="4.3,4.3"/>
<path d="M539.98,322.90 C540.08,324.08 540.33,328.08 540.58,330.00 C540.83,331.92 540.95,333.23 541.48,334.40 C542.02,335.57 542.90,336.13 543.78,337.00 C544.67,337.87 545.12,338.45 546.78,339.60 C548.45,340.75 551.60,342.60 553.78,343.90 C555.97,345.20 558.43,345.95 559.88,347.40 C561.33,348.85 562.33,351.15 562.48,352.60 C562.63,354.05 561.80,354.93 560.78,356.10 C559.77,357.27 557.70,358.28 556.38,359.60 C555.07,360.92 553.62,362.68 552.88,364.00 C552.15,365.32 552.72,366.05 551.98,367.50 C551.25,368.95 549.80,371.12 548.48,372.70 C547.17,374.28 545.25,375.85 544.08,377.00 C542.92,378.15 542.08,378.77 541.48,379.60 C540.88,380.43 540.73,381.27 540.48,382.00 C540.23,382.73 540.07,383.67 539.98,384.00 L539.98,384.00 Z" fill="#6db6bf" stroke="#383838" stroke-width="1.75" stroke-linejoin="round"/>
<line x1="539.98" y1="348.80" x2="560.38" y2="348.80" stroke="#383838" stroke-width="1.75" stroke-dasharray="4.3,4.3"/>
<line x1="539.98" y1="354.60" x2="561.30" y2="354.60" stroke="#383838" stroke-width="1.75" stroke-dasharray="8.6,8.6"/>
<line x1="539.98" y1="362.80" x2="553.70" y2="362.80" stroke="#383838" stroke-width="1.75" stroke-dasharray="4.3,4.3"/>
<path d="M595.22,284.60 C595.30,286.38 594.87,292.50 595.72,295.30 C596.57,298.10 598.03,299.25 600.32,301.40 C602.60,303.55 606.50,305.53 609.42,308.20 C612.33,310.87 617.55,314.47 617.82,317.40 C618.08,320.33 613.43,323.38 611.02,325.80 C608.60,328.22 605.17,330.33 603.32,331.90 C601.47,333.47 600.92,333.78 599.92,335.20 C598.92,336.62 597.80,338.77 597.32,340.40 C596.83,342.03 597.00,343.07 597.02,345.00 C597.03,346.93 597.30,349.83 597.42,352.00 C597.53,354.17 597.75,355.83 597.72,358.00 C597.68,360.17 597.43,362.67 597.22,365.00 C597.00,367.33 596.67,369.83 596.42,372.00 C596.17,374.17 595.92,376.00 595.72,378.00 C595.52,380.00 595.30,383.00 595.22,384.00 L595.22,384.00 Z" fill="#6db6bf" stroke="#383838" stroke-width="1.75" stroke-linejoin="round"/>
<line x1="595.22" y1="313.90" x2="614.43" y2="313.90" stroke="#383838" stroke-width="1.75" stroke-dasharray="4.3,4.3"/>
<line x1="595.22" y1="319.40" x2="615.99" y2="319.40" stroke="#383838" stroke-width="1.75" stroke-dasharray="8.6,8.6"/>
<line x1="595.22" y1="325.80" x2="610.86" y2="325.80" stroke="#383838" stroke-width="1.75" stroke-dasharray="4.3,4.3"/>
<path d="M650.45,300.00 C650.28,302.50 649.78,311.55 649.45,315.00 C649.12,318.45 648.48,318.53 648.45,320.70 C648.42,322.87 649.08,324.78 649.25,328.00 C649.42,331.22 649.47,336.33 649.45,340.00 C649.43,343.67 649.18,346.67 649.15,350.00 C649.12,353.33 649.17,356.67 649.25,360.00 C649.33,363.33 649.45,367.08 649.65,370.00 C649.85,372.92 650.32,376.25 650.45,377.50 L650.45,377.50 Z" fill="#468096" stroke="#383838" stroke-width="1.75" stroke-linejoin="round"/>
<path d="M650.45,290.30 C650.53,291.58 650.78,296.05 650.95,298.00 C651.12,299.95 651.20,300.83 651.45,302.00 C651.70,303.17 651.85,303.92 652.45,305.00 C653.05,306.08 653.63,307.13 655.05,308.50 C656.47,309.87 658.80,311.63 660.95,313.20 C663.10,314.77 666.07,316.33 667.95,317.90 C669.83,319.47 671.85,321.22 672.25,322.60 C672.65,323.98 671.65,324.82 670.35,326.20 C669.05,327.58 666.60,329.33 664.45,330.90 C662.30,332.47 659.15,334.45 657.45,335.60 C655.75,336.75 655.07,336.80 654.25,337.80 C653.43,338.80 652.90,340.40 652.55,341.60 C652.20,342.80 652.20,343.27 652.15,345.00 C652.10,346.73 652.20,349.83 652.25,352.00 C652.30,354.17 652.52,355.83 652.45,358.00 C652.38,360.17 652.05,362.67 651.85,365.00 C651.65,367.33 651.48,369.92 651.25,372.00 C651.02,374.08 650.58,376.58 650.45,377.50 L650.45,377.50 Z" fill="#6db6bf" stroke="#383838" stroke-width="1.75" stroke-linejoin="round"/>
<line x1="650.45" y1="318.60" x2="668.41" y2="318.60" stroke="#383838" stroke-width="1.75" stroke-dasharray="4.3,4.3"/>
<line x1="650.45" y1="322.60" x2="672.03" y2="322.60" stroke="#383838" stroke-width="1.75" stroke-dasharray="8.6,8.6"/>
<line x1="650.45" y1="328.00" x2="667.91" y2="328.00" stroke="#383838" stroke-width="1.75" stroke-dasharray="4.3,4.3"/>
<path d="M705.68,298.50 C705.55,300.08 705.13,305.55 704.88,308.00 C704.63,310.45 705.23,311.73 704.18,313.20 C703.13,314.67 700.68,315.42 698.58,316.80 C696.48,318.18 693.40,320.22 691.58,321.50 C689.77,322.78 688.67,323.60 687.68,324.50 C686.70,325.40 685.82,325.83 685.68,326.90 C685.55,327.97 685.52,329.45 686.88,330.90 C688.25,332.35 691.53,334.03 693.88,335.60 C696.23,337.17 699.48,338.73 700.98,340.30 C702.48,341.87 702.52,343.05 702.88,345.00 C703.25,346.95 703.18,349.50 703.18,352.00 C703.18,354.50 702.80,357.50 702.88,360.00 C702.97,362.50 703.22,364.52 703.68,367.00 C704.15,369.48 705.35,373.58 705.68,374.90 L705.68,374.90 Z" fill="#468096" stroke="#383838" stroke-width="1.75" stroke-linejoin="round"/>
<line x1="688.76" y1="323.80" x2="705.68" y2="323.80" stroke="#383838" stroke-width="1.75" stroke-dasharray="4.3,4.3"/>
<line x1="686.21" y1="328.00" x2="705.68" y2="328.00" stroke="#383838" stroke-width="1.75" stroke-dasharray="8.6,8.6"/>
<line x1="689.87" y1="332.80" x2="705.68" y2="332.80" stroke="#383838" stroke-width="1.75" stroke-dasharray="4.3,4.3"/>
<path d="M705.68,298.50 C705.82,300.08 706.23,305.55 706.48,308.00 C706.73,310.45 706.15,311.73 707.18,313.20 C708.22,314.67 710.38,315.42 712.68,316.80 C714.98,318.18 718.82,320.22 720.98,321.50 C723.15,322.78 724.52,323.60 725.68,324.50 C726.85,325.40 727.98,325.83 727.98,326.90 C727.98,327.97 727.43,329.45 725.68,330.90 C723.93,332.35 720.23,334.03 717.48,335.60 C714.73,337.17 710.90,338.73 709.18,340.30 C707.47,341.87 707.57,342.55 707.18,345.00 C706.80,347.45 707.00,351.67 706.88,355.00 C706.77,358.33 706.68,361.68 706.48,365.00 C706.28,368.32 705.82,373.25 705.68,374.90 L705.68,374.90 Z" fill="#6db6bf" stroke="#383838" stroke-width="1.75" stroke-linejoin="round"/>
<line x1="705.68" y1="324.50" x2="725.48" y2="324.50" stroke="#383838" stroke-width="1.75" stroke-dasharray="4.3,4.3"/>
<line x1="705.68" y1="328.00" x2="727.13" y2="328.00" stroke="#383838" stroke-width="1.75" stroke-dasharray="8.6,8.6"/>
<line x1="705.68" y1="332.80" x2="722.20" y2="332.80" stroke="#383838" stroke-width="1.75" stroke-dasharray="4.3,4.3"/>
</g>
<rect x="60.10" y="7.20" width="331.30" height="169.60" fill="none" stroke="#2a2a2a" stroke-width="1.40"/>
<line x1="55.10" y1="176.80" x2="60.10" y2="176.80" stroke="#2a2a2a" stroke-width="1.40"/>
<text x="42.40" y="181.80" font-size="14.10" font-family="Liberation Sans" textLength="8.11" lengthAdjust="spacingAndGlyphs" stroke="#262626" stroke-width="0.20" fill="#262626">0</text>
<line x1="55.10" y1="131.65" x2="60.10" y2="131.65" stroke="#2a2a2a" stroke-width="1.40"/>
<text x="32.94" y="136.65" font-size="14.10" font-family="Liberation Sans" textLength="17.46" lengthAdjust="spacingAndGlyphs" stroke="#262626" stroke-width="0.20" fill="#262626">20</text>
<line x1="55.10" y1="86.50" x2="60.10" y2="86.50" stroke="#2a2a2a" stroke-width="1.40"/>
<text x="33.94" y="91.50" font-size="14.10" font-family="Liberation Sans" textLength="16.30" lengthAdjust="spacingAndGlyphs" stroke="#262626" stroke-width="0.20" fill="#262626">40</text>
<line x1="55.10" y1="41.35" x2="60.10" y2="41.35" stroke="#2a2a2a" stroke-width="1.40"/>
<text x="32.94" y="46.35" font-size="14.10" font-family="Liberation Sans" textLength="17.46" lengthAdjust="spacingAndGlyphs" stroke="#262626" stroke-width="0.20" fill="#262626">60</text>
<line x1="87.71" y1="176.80" x2="87.71" y2="181.30" stroke="#2a2a2a" stroke-width="1.40"/>
<line x1="142.92" y1="176.80" x2="142.92" y2="181.30" stroke="#2a2a2a" stroke-width="1.40"/>
<line x1="198.14" y1="176.80" x2="198.14" y2="181.30" stroke="#2a2a2a" stroke-width="1.40"/>
<line x1="253.36" y1="176.80" x2="253.36" y2="181.30" stroke="#2a2a2a" stroke-width="1.40"/>
<line x1="308.57" y1="176.80" x2="308.57" y2="181.30" stroke="#2a2a2a" stroke-width="1.40"/>
<line x1="363.79" y1="176.80" x2="363.79" y2="181.30" stroke="#2a2a2a" stroke-width="1.40"/>
<rect x="401.90" y="7.20" width="331.40" height="169.60" fill="none" stroke="#2a2a2a" stroke-width="1.40"/>
<line x1="396.90" y1="176.80" x2="401.90" y2="176.80" stroke="#2a2a2a" stroke-width="1.40"/>
<line x1="396.90" y1="131.65" x2="401.90" y2="131.65" stroke="#2a2a2a" stroke-width="1.40"/>
<line x1="396.90" y1="86.50" x2="401.90" y2="86.50" stroke="#2a2a2a" stroke-width="1.40"/>
<line x1="396.90" y1="41.35" x2="401.90" y2="41.35" stroke="#2a2a2a" stroke-width="1.40"/>
<line x1="429.52" y1="176.80" x2="429.52" y2="181.30" stroke="#2a2a2a" stroke-width="1.40"/>
<line x1="484.75" y1="176.80" x2="484.75" y2="181.30" stroke="#2a2a2a" stroke-width="1.40"/>
<line x1="539.98" y1="176.80" x2="539.98" y2="181.30" stroke="#2a2a2a" stroke-width="1.40"/>
<line x1="595.22" y1="176.80" x2="595.22" y2="181.30" stroke="#2a2a2a" stroke-width="1.40"/>
<line x1="650.45" y1="176.80" x2="650.45" y2="181.30" stroke="#2a2a2a" stroke-width="1.40"/>
<line x1="705.68" y1="176.80" x2="705.68" y2="181.30" stroke="#2a2a2a" stroke-width="1.40"/>
<rect x="60.10" y="210.80" width="331.30" height="170.10" fill="none" stroke="#2a2a2a" stroke-width="1.40"/>
<line x1="55.10" y1="380.90" x2="60.10" y2="380.90" stroke="#2a2a2a" stroke-width="1.40"/>
<text x="42.40" y="385.90" font-size="14.10" font-family="Liberation Sans" textLength="8.11" lengthAdjust="spacingAndGlyphs" stroke="#262626" stroke-width="0.20" fill="#262626">0</text>
<line x1="55.10" y1="346.90" x2="60.10" y2="346.90" stroke="#2a2a2a" stroke-width="1.40"/>
<text x="32.94" y="351.90" font-size="14.10" font-family="Liberation Sans" textLength="17.46" lengthAdjust="spacingAndGlyphs" stroke="#262626" stroke-width="0.20" fill="#262626">50</text>
<line x1="55.10" y1="312.90" x2="60.10" y2="312.90" stroke="#2a2a2a" stroke-width="1.40"/>
<text x="24.48" y="317.90" font-size="14.10" font-family="Liberation Sans" textLength="25.63" lengthAdjust="spacingAndGlyphs" stroke="#262626" stroke-width="0.20" fill="#262626">100</text>
<line x1="55.10" y1="278.90" x2="60.10" y2="278.90" stroke="#2a2a2a" stroke-width="1.40"/>
<text x="24.48" y="283.90" font-size="14.10" font-family="Liberation Sans" textLength="25.63" lengthAdjust="spacingAndGlyphs" stroke="#262626" stroke-width="0.20" fill="#262626">150</text>
<line x1="55.10" y1="244.90" x2="60.10" y2="244.90" stroke="#2a2a2a" stroke-width="1.40"/>
<text x="24.48" y="249.90" font-size="14.10" font-family="Liberation Sans" textLength="25.63" lengthAdjust="spacingAndGlyphs" stroke="#262626" stroke-width="0.20" fill="#262626">200</text>
<line x1="55.10" y1="210.90" x2="60.10" y2="210.90" stroke="#2a2a2a" stroke-width="1.40"/>
<text x="24.48" y="215.90" font-size="14.10" font-family="Liberation Sans" textLength="25.63" lengthAdjust="spacingAndGlyphs" stroke="#262626" stroke-width="0.20" fill="#262626">250</text>
<line x1="87.71" y1="380.90" x2="87.71" y2="385.40" stroke="#2a2a2a" stroke-width="1.40"/>
<text x="83.01" y="400.30" font-size="14.10" font-family="Liberation Sans" textLength="9.46" lengthAdjust="spacingAndGlyphs" stroke="#262626" stroke-width="0.20" fill="#262626">2</text>
<line x1="142.92" y1="380.90" x2="142.92" y2="385.40" stroke="#2a2a2a" stroke-width="1.40"/>
<text x="138.22" y="400.30" font-size="14.10" font-family="Liberation Sans" textLength="9.46" lengthAdjust="spacingAndGlyphs" stroke="#262626" stroke-width="0.20" fill="#262626">3</text>
<line x1="198.14" y1="380.90" x2="198.14" y2="385.40" stroke="#2a2a2a" stroke-width="1.40"/>
<text x="194.44" y="400.30" font-size="14.10" font-family="Liberation Sans" textLength="7.09" lengthAdjust="spacingAndGlyphs" stroke="#262626" stroke-width="0.20" fill="#262626">4</text>
<line x1="253.36" y1="380.90" x2="253.36" y2="385.40" stroke="#2a2a2a" stroke-width="1.40"/>
<text x="248.66" y="400.30" font-size="14.10" font-family="Liberation Sans" textLength="9.46" lengthAdjust="spacingAndGlyphs" stroke="#262626" stroke-width="0.20" fill="#262626">6</text>
<line x1="308.57" y1="380.90" x2="308.57" y2="385.40" stroke="#2a2a2a" stroke-width="1.40"/>
<text x="303.88" y="400.30" font-size="14.10" font-family="Liberation Sans" textLength="9.46" lengthAdjust="spacingAndGlyphs" stroke="#262626" stroke-width="0.20" fill="#262626">7</text>
<line x1="363.79" y1="380.90" x2="363.79" y2="385.40" stroke="#2a2a2a" stroke-width="1.40"/>
<text x="359.09" y="400.30" font-size="14.10" font-family="Liberation Sans" textLength="9.27" lengthAdjust="spacingAndGlyphs" stroke="#262626" stroke-width="0.20" fill="#262626">8</text>
<rect x="401.90" y="210.80" width="331.40" height="170.10" fill="none" stroke="#2a2a2a" stroke-width="1.40"/>
<line x1="396.90" y1="380.90" x2="401.90" y2="380.90" stroke="#2a2a2a" stroke-width="1.40"/>
<line x1="396.90" y1="346.90" x2="401.90" y2="346.90" stroke="#2a2a2a" stroke-width="1.40"/>
<line x1="396.90" y1="312.90" x2="401.90" y2="312.90" stroke="#2a2a2a" stroke-width="1.40"/>
<line x1="396.90" y1="278.90" x2="401.90" y2="278.90" stroke="#2a2a2a" stroke-width="1.40"/>
<line x1="396.90" y1="244.90" x2="401.90" y2="244.90" stroke="#2a2a2a" stroke-width="1.40"/>
<line x1="396.90" y1="210.90" x2="401.90" y2="210.90" stroke="#2a2a2a" stroke-width="1.40"/>
<line x1="429.52" y1="380.90" x2="429.52" y2="385.40" stroke="#2a2a2a" stroke-width="1.40"/>
<text x="424.82" y="400.30" font-size="14.10" font-family="Liberation Sans" textLength="9.46" lengthAdjust="spacingAndGlyphs" stroke="#262626" stroke-width="0.20" fill="#262626">2</text>
<line x1="484.75" y1="380.90" x2="484.75" y2="385.40" stroke="#2a2a2a" stroke-width="1.40"/>
<text x="480.05" y="400.30" font-size="14.10" font-family="Liberation Sans" textLength="9.46" lengthAdjust="spacingAndGlyphs" stroke="#262626" stroke-width="0.20" fill="#262626">3</text>
<line x1="539.98" y1="380.90" x2="539.98" y2="385.40" stroke="#2a2a2a" stroke-width="1.40"/>
<text x="536.28" y="400.30" font-size="14.10" font-family="Liberation Sans" textLength="7.09" lengthAdjust="spacingAndGlyphs" stroke="#262626" stroke-width="0.20" fill="#262626">4</text>
<line x1="595.22" y1="380.90" x2="595.22" y2="385.40" stroke="#2a2a2a" stroke-width="1.40"/>
<text x="590.52" y="400.30" font-size="14.10" font-family="Liberation Sans" textLength="9.46" lengthAdjust="spacingAndGlyphs" stroke="#262626" stroke-width="0.20" fill="#262626">6</text>
<line x1="650.45" y1="380.90" x2="650.45" y2="385.40" stroke="#2a2a2a" stroke-width="1.40"/>
<text x="645.75" y="400.30" font-size="14.10" font-family="Liberation Sans" textLength="9.46" lengthAdjust="spacingAndGlyphs" stroke="#262626" stroke-width="0.20" fill="#262626">7</text>
<line x1="705.68" y1="380.90" x2="705.68" y2="385.40" stroke="#2a2a2a" stroke-width="1.40"/>
<text x="700.98" y="400.30" font-size="14.10" font-family="Liberation Sans" textLength="9.27" lengthAdjust="spacingAndGlyphs" stroke="#262626" stroke-width="0.20" fill="#262626">8</text>
<rect x="287.70" y="13.80" width="96.60" height="62.80" rx="2.5" ry="2.5" fill="#ffffff" fill-opacity="0.8" stroke="#cfcfcf" stroke-width="1.1"/>
<text x="293.40" y="29.20" font-size="14.10" font-family="Liberation Sans" textLength="85.63" lengthAdjust="spacingAndGlyphs" stroke="#262626" stroke-width="0.20" fill="#262626">Vehicle Type</text>
<rect x="295.35" y="39.30" width="27.0" height="9.3" fill="#468096" stroke="#383838" stroke-width="1.1"/>
<rect x="295.35" y="58.80" width="27.0" height="9.3" fill="#6db6bf" stroke="#383838" stroke-width="1.1"/>
<text x="334.10" y="48.40" font-size="14.10" font-family="Liberation Sans" textLength="42.48" lengthAdjust="spacingAndGlyphs" stroke="#262626" stroke-width="0.20" fill="#262626">Trucks</text>
<text x="333.10" y="67.80" font-size="14.10" font-family="Liberation Sans" textLength="28.74" lengthAdjust="spacingAndGlyphs" stroke="#262626" stroke-width="0.20" fill="#262626">Cars</text>
<rect x="629.60" y="13.80" width="96.60" height="62.80" rx="2.5" ry="2.5" fill="#ffffff" fill-opacity="0.8" stroke="#cfcfcf" stroke-width="1.1"/>
<text x="635.30" y="29.20" font-size="14.10" font-family="Liberation Sans" textLength="85.63" lengthAdjust="spacingAndGlyphs" stroke="#262626" stroke-width="0.20" fill="#262626">Vehicle Type</text>
<rect x="637.25" y="39.30" width="27.0" height="9.3" fill="#468096" stroke="#383838" stroke-width="1.1"/>
<rect x="637.25" y="58.80" width="27.0" height="9.3" fill="#6db6bf" stroke="#383838" stroke-width="1.1"/>
<text x="676.00" y="48.40" font-size="14.10" font-family="Liberation Sans" textLength="42.48" lengthAdjust="spacingAndGlyphs" stroke="#262626" stroke-width="0.20" fill="#262626">Trucks</text>
<text x="675.00" y="67.80" font-size="14.10" font-family="Liberation Sans" textLength="28.74" lengthAdjust="spacingAndGlyphs" stroke="#262626" stroke-width="0.20" fill="#262626">Cars</text>
<rect x="287.70" y="217.40" width="96.60" height="62.80" rx="2.5" ry="2.5" fill="#ffffff" fill-opacity="0.8" stroke="#cfcfcf" stroke-width="1.1"/>
<text x="293.40" y="232.80" font-size="14.10" font-family="Liberation Sans" textLength="85.63" lengthAdjust="spacingAndGlyphs" stroke="#262626" stroke-width="0.20" fill="#262626">Vehicle Type</text>
<rect x="295.35" y="242.90" width="27.0" height="9.3" fill="#468096" stroke="#383838" stroke-width="1.1"/>
<rect x="295.35" y="262.40" width="27.0" height="9.3" fill="#6db6bf" stroke="#383838" stroke-width="1.1"/>
<text x="334.10" y="252.00" font-size="14.10" font-family="Liberation Sans" textLength="42.48" lengthAdjust="spacingAndGlyphs" stroke="#262626" stroke-width="0.20" fill="#262626">Trucks</text>
<text x="333.10" y="271.40" font-size="14.10" font-family="Liberation Sans" textLength="28.74" lengthAdjust="spacingAndGlyphs" stroke="#262626" stroke-width="0.20" fill="#262626">Cars</text>
<rect x="629.60" y="217.40" width="96.60" height="62.80" rx="2.5" ry="2.5" fill="#ffffff" fill-opacity="0.8" stroke="#cfcfcf" stroke-width="1.1"/>
<text x="635.30" y="232.80" font-size="14.10" font-family="Liberation Sans" textLength="85.63" lengthAdjust="spacingAndGlyphs" stroke="#262626" stroke-width="0.20" fill="#262626">Vehicle Type</text>
<rect x="637.25" y="242.90" width="27.0" height="9.3" fill="#468096" stroke="#383838" stroke-width="1.1"/>
<rect x="637.25" y="262.40" width="27.0" height="9.3" fill="#6db6bf" stroke="#383838" stroke-width="1.1"/>
<text x="676.00" y="252.00" font-size="14.10" font-family="Liberation Sans" textLength="42.48" lengthAdjust="spacingAndGlyphs" stroke="#262626" stroke-width="0.20" fill="#262626">Trucks</text>
<text x="675.00" y="271.40" font-size="14.10" font-family="Liberation Sans" textLength="28.74" lengthAdjust="spacingAndGlyphs" stroke="#262626" stroke-width="0.20" fill="#262626">Cars</text>
<text x="199.50" y="192.10" font-size="14.10" font-family="Liberation Sans" textLength="50.82" lengthAdjust="spacingAndGlyphs" stroke="#262626" stroke-width="0.20" fill="#262626">Lane ID</text>
<text x="541.50" y="192.10" font-size="14.10" font-family="Liberation Sans" textLength="50.82" lengthAdjust="spacingAndGlyphs" stroke="#262626" stroke-width="0.20" fill="#262626">Lane ID</text>
<text x="199.50" y="418.90" font-size="14.10" font-family="Liberation Sans" textLength="50.82" lengthAdjust="spacingAndGlyphs" stroke="#262626" stroke-width="0.20" fill="#262626">Lane ID</text>
<text x="541.50" y="418.90" font-size="14.10" font-family="Liberation Sans" textLength="50.82" lengthAdjust="spacingAndGlyphs" stroke="#262626" stroke-width="0.20" fill="#262626">Lane ID</text>
<g transform="translate(25.4,148.9) rotate(-90)"><text x="-1.00" y="0.00" font-size="14.10" font-family="Liberation Sans" textLength="116.74" lengthAdjust="spacingAndGlyphs" stroke="#262626" stroke-width="0.20" fill="#262626">Density [veh/km]</text></g>
<g transform="translate(16.2,340.9) rotate(-90)"><text x="-1.00" y="0.00" font-size="14.10" font-family="Liberation Sans" textLength="90.54" lengthAdjust="spacingAndGlyphs" stroke="#262626" stroke-width="0.20" fill="#262626">Speed [km/h]</text></g>
<text x="75.70" y="25.60" font-size="14.10" font-family="Liberation Sans" font-style="italic" textLength="10.21" lengthAdjust="spacingAndGlyphs" stroke="#262626" stroke-width="0.20" fill="#262626">ø</text>
<text x="85.20" y="27.80" font-size="9.40" font-family="Liberation Sans" font-style="italic" textLength="6.45" lengthAdjust="spacingAndGlyphs" stroke="#262626" stroke-width="0.20" fill="#262626">A</text>
<rect x="95.70" y="19.85" width="8.4" height="1.2" fill="#2a2a2a"/>
<rect x="95.70" y="22.75" width="8.4" height="1.2" fill="#2a2a2a"/>
<text x="108.90" y="25.60" font-size="14.10" font-family="Liberation Sans" textLength="83.55" lengthAdjust="spacingAndGlyphs" stroke="#262626" stroke-width="0.20" fill="#262626">40.6 veh/km</text>
<text x="417.70" y="25.60" font-size="14.10" font-family="Liberation Sans" font-style="italic" textLength="10.21" lengthAdjust="spacingAndGlyphs" stroke="#262626" stroke-width="0.20" fill="#262626">ø</text>
<text x="427.20" y="27.80" font-size="9.40" font-family="Liberation Sans" font-style="italic" textLength="5.93" lengthAdjust="spacingAndGlyphs" stroke="#262626" stroke-width="0.20" fill="#262626">B</text>
<rect x="437.70" y="19.85" width="8.4" height="1.2" fill="#2a2a2a"/>
<rect x="437.70" y="22.75" width="8.4" height="1.2" fill="#2a2a2a"/>
<text x="450.80" y="25.60" font-size="14.10" font-family="Liberation Sans" textLength="91.76" lengthAdjust="spacingAndGlyphs" stroke="#262626" stroke-width="0.20" fill="#262626">163.0 veh/km</text>
<text x="67.30" y="229.60" font-size="14.10" font-family="Liberation Sans" font-style="italic" textLength="10.21" lengthAdjust="spacingAndGlyphs" stroke="#262626" stroke-width="0.20" fill="#262626">ø</text>
<text x="76.80" y="231.80" font-size="9.40" font-family="Liberation Sans" font-style="italic" textLength="6.45" lengthAdjust="spacingAndGlyphs" stroke="#262626" stroke-width="0.20" fill="#262626">A</text>
<rect x="87.30" y="223.85" width="8.4" height="1.2" fill="#2a2a2a"/>
<rect x="87.30" y="226.75" width="8.4" height="1.2" fill="#2a2a2a"/>
<text x="100.40" y="229.60" font-size="14.10" font-family="Liberation Sans" textLength="75.35" lengthAdjust="spacingAndGlyphs" stroke="#262626" stroke-width="0.20" fill="#262626">119.7 km/h</text>
<text x="417.70" y="229.60" font-size="14.10" font-family="Liberation Sans" font-style="italic" textLength="10.21" lengthAdjust="spacingAndGlyphs" stroke="#262626" stroke-width="0.20" fill="#262626">ø</text>
<text x="427.20" y="231.80" font-size="9.40" font-family="Liberation Sans" font-style="italic" textLength="5.93" lengthAdjust="spacingAndGlyphs" stroke="#262626" stroke-width="0.20" fill="#262626">B</text>
<rect x="437.70" y="223.85" width="8.4" height="1.2" fill="#2a2a2a"/>
<rect x="437.70" y="226.75" width="8.4" height="1.2" fill="#2a2a2a"/>
<text x="450.40" y="229.60" font-size="14.10" font-family="Liberation Sans" textLength="68.29" lengthAdjust="spacingAndGlyphs" stroke="#262626" stroke-width="0.20" fill="#262626">50.0 km/h</text>
<text x="71.90" y="52.70" font-size="18.00" font-family="Liberation Serif" font-weight="bold" textLength="17.06" lengthAdjust="spacingAndGlyphs" fill="#000">a)</text>
<text x="414.90" y="52.60" font-size="18.00" font-family="Liberation Serif" font-weight="bold" textLength="18.15" lengthAdjust="spacingAndGlyphs" fill="#000">b)</text>
<text x="72.20" y="255.50" font-size="18.00" font-family="Liberation Serif" font-weight="bold" textLength="16.61" lengthAdjust="spacingAndGlyphs" fill="#000">c)</text>
<text x="417.60" y="255.50" font-size="18.00" font-family="Liberation Serif" font-weight="bold" textLength="18.69" lengthAdjust="spacingAndGlyphs" fill="#000">d)</text>
</svg></body></html>
